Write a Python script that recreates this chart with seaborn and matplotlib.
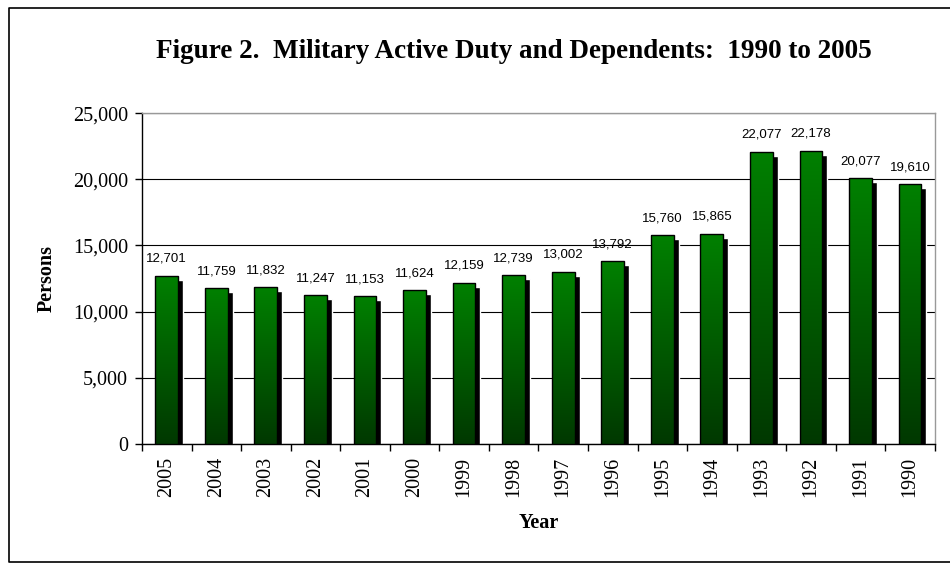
import numpy as np
import seaborn as sns
import matplotlib.pyplot as plt
import matplotlib.transforms as mtransforms
from matplotlib.colors import LinearSegmentedColormap
from matplotlib.lines import Line2D

# data
years = ['2005', '2004', '2003', '2002', '2001', '2000', '1999', '1998',
         '1997', '1996', '1995', '1994', '1993', '1992', '1991', '1990']
persons = [12701, 11759, 11832, 11247, 11153, 11624, 12159, 12739,
           13002, 13792, 15760, 15865, 22077, 22178, 20077, 19610]
yticks = [0, 5000, 10000, 15000, 20000, 25000]

sns.set_style('white')
plt.rcParams['font.family'] = ['Liberation Serif', 'DejaVu Serif']
plt.rcParams['text.color'] = 'black'
plt.rcParams['axes.labelcolor'] = 'black'
plt.rcParams['xtick.color'] = 'black'
plt.rcParams['ytick.color'] = 'black'

fig = plt.figure(figsize=(9.5, 5.63), dpi=100)
ax = fig.add_axes([0.1495, 0.2114, 0.8345, 0.5876])

# shadow bars, shifted a few pixels right and down
shadow = mtransforms.offset_copy(ax.transData, fig=fig, x=5, y=-4, units='dots')
sns.barplot(x=years, y=persons, order=years, color='black', width=0.46,
            saturation=1, ax=ax, zorder=2)
for p in ax.patches:
    p.set_transform(shadow)
n_shadow = len(ax.patches)

sns.barplot(x=years, y=persons, order=years, color='#008000', width=0.46,
            saturation=1, edgecolor='black', linewidth=1, ax=ax, zorder=3)

# green gradient inside each front bar
cmap = LinearSegmentedColormap.from_list('grn', ['#003800', '#008000'])
grad = np.linspace(0, 1, 256).reshape(-1, 1)
for p in ax.patches[n_shadow:]:
    x0, y0 = p.get_x(), p.get_y()
    w, h = p.get_width(), p.get_height()
    im = ax.imshow(grad, cmap=cmap, origin='lower', aspect='auto',
                   extent=[x0, x0 + w, y0, y0 + h], zorder=3.5)
    im.set_clip_path(p)
    p.set_facecolor('none')
    p.set_zorder(4)

for i, v in enumerate(persons):
    ax.annotate(f'{v:,}', (i, v), xytext=(0, 8), textcoords='offset points',
                ha='center', va='bottom', fontsize=9.5, color='black',
                family=['Liberation Sans', 'DejaVu Sans'])

ax.set_xlim(-0.5, 15.5)
ax.set_ylim(0, 25000)
ax.set_yticks(yticks)
ax.set_yticklabels([f'{t:,}' for t in yticks], fontsize=14.5)
ax.yaxis.grid(True, color='black', linewidth=0.8, zorder=1)
ax.set_axisbelow(True)
ax.set_xticks(range(len(years)))
ax.set_xticklabels(years, rotation=90, fontsize=14.5)
ax.set_xticks(np.arange(-0.5, 16, 1), minor=True)
ax.tick_params(axis='x', which='major', length=0, pad=9)
ax.tick_params(axis='x', which='minor', length=5, width=1, color='black',
               direction='out', bottom=True)
ax.tick_params(axis='y', length=5, width=1, color='black', direction='out',
               left=True, pad=5)

for side in ['left', 'bottom']:
    ax.spines[side].set_color('black')
    ax.spines[side].set_linewidth(1)
for side in ['top', 'right']:
    ax.spines[side].set_color('#999999')
    ax.spines[side].set_linewidth(1)

ax.set_xlabel('Year', fontsize=14.5, fontweight='bold', labelpad=12)
ax.set_ylabel('Persons', fontsize=14.5, fontweight='bold', labelpad=12)
fig.text(0.541, 0.909, 'Figure 2.  Military Active Duty and Dependents:  1990 to 2005',
         ha='center', va='center', fontsize=19.5, fontweight='bold')

# outer chart border (right side falls outside the picture)
fig.add_artist(Line2D([1.0, 0.0095, 0.0095, 1.0], [0.986, 0.986, 0.002, 0.002],
                      transform=fig.transFigure, color='black', linewidth=1.2))

fig.savefig('out.png', dpi=100)
